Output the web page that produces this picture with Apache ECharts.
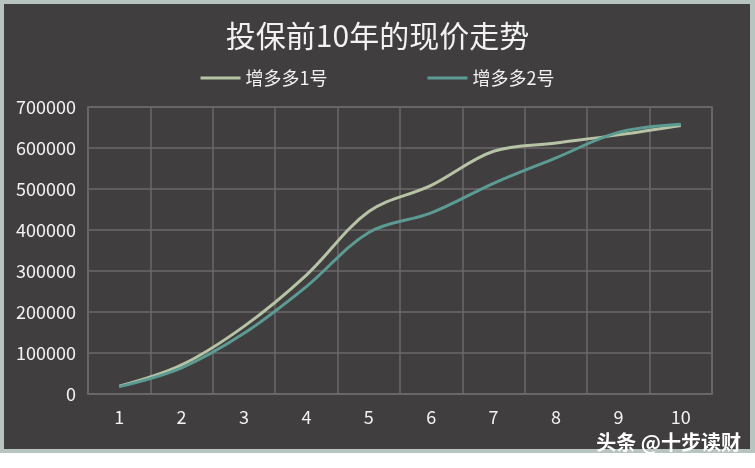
<!DOCTYPE html>
<html>
<head>
<meta charset="utf-8">
<script src="https://cdn.jsdelivr.net/npm/echarts@6/dist/echarts.min.js"></script>
<style>
  html, body { margin: 0; padding: 0; background: #ffffff; }
  #frame { position: absolute; left: 0; top: 0; width: 755px; height: 453px; background: #b8c4bf; }
  #panel { position: absolute; left: 4px; top: 4px; width: 746px; height: 445px; background: #403e3f; }
  #chart { position: absolute; left: 0; top: 0; width: 755px; height: 468px; }
</style>
</head>
<body>
<div id="frame"></div>
<div id="panel"></div>
<div id="chart"></div>
<script>
  const years = ["1", "2", "3", "4", "5", "6", "7", "8", "9", "10"];
  const plan1 = [19000, 71000, 165000, 290000, 445000, 509000, 592000, 612000, 632000, 655000];
  const plan2 = [18000, 64000, 148000, 262000, 394000, 442000, 514000, 576000, 638000, 658000];
  const yTicks = [0, 700000, 100000]; // min, max, step

  const font = '"Noto Sans CJK SC", "Noto Sans", sans-serif';
  const gridColor = "#6a6969";

  const chart = echarts.init(document.getElementById("chart"));

  chart.setOption({
    backgroundColor: "transparent",
    animation: false,
    title: {
      text: "投保前10年的现价走势",
      left: "center",
      top: 16,
      textStyle: { color: "#f2f2f2", fontSize: 30, fontWeight: "normal", fontFamily: font },
    },
    legend: {
      top: 64,
      left: "center",
      itemWidth: 40,
      itemHeight: 3,
      itemGap: 100,
      icon: "rect",
      textStyle: { color: "#f2f2f2", fontSize: 18, fontFamily: font },
      data: ["增多多1号", "增多多2号"],
    },
    grid: {
      left: 88,
      right: 43,
      top: 107,
      bottom: 74,
      show: true,
      borderColor: gridColor,
      borderWidth: 1.5,
    },
    xAxis: {
      type: "category",
      data: years,
      boundaryGap: true,
      axisLine: { lineStyle: { color: gridColor, width: 1.5 } },
      axisTick: { show: false },
      axisLabel: { color: "#f2f2f2", fontSize: 18, margin: 14, fontFamily: font },
      splitLine: { show: true, lineStyle: { color: gridColor, width: 1.5 } },
    },
    yAxis: {
      type: "value",
      min: yTicks[0],
      max: yTicks[1],
      interval: yTicks[2],
      axisLine: { show: false },
      axisTick: { show: false },
      axisLabel: { color: "#f2f2f2", fontSize: 18, margin: 12, fontFamily: font, formatter: (v) => String(v) },
      splitLine: { lineStyle: { color: gridColor, width: 1.5 } },
    },
    series: [
      {
        name: "增多多1号",
        type: "line",
        data: plan1,
        smooth: 0.35,
        symbol: "none",
        lineStyle: { color: "#b7c3a5", width: 3 },
        itemStyle: { color: "#b7c3a5" },
      },
      {
        name: "增多多2号",
        type: "line",
        data: plan2,
        smooth: 0.35,
        symbol: "none",
        lineStyle: { color: "#5c9b93", width: 3 },
        itemStyle: { color: "#5c9b93" },
      },
    ],
    graphic: [
      {
        type: "text",
        right: 14,
        bottom: 16,
        style: {
          text: "头条 @十步读财",
          fill: "#ffffff",
          font: '600 20px "Noto Sans CJK SC", sans-serif',
          shadowColor: "rgba(0,0,0,0.8)",
          shadowBlur: 3,
        },
      },
    ],
  });

  window.addEventListener("resize", () => {
    chart.resize();
  });
</script>
</body>
</html>
